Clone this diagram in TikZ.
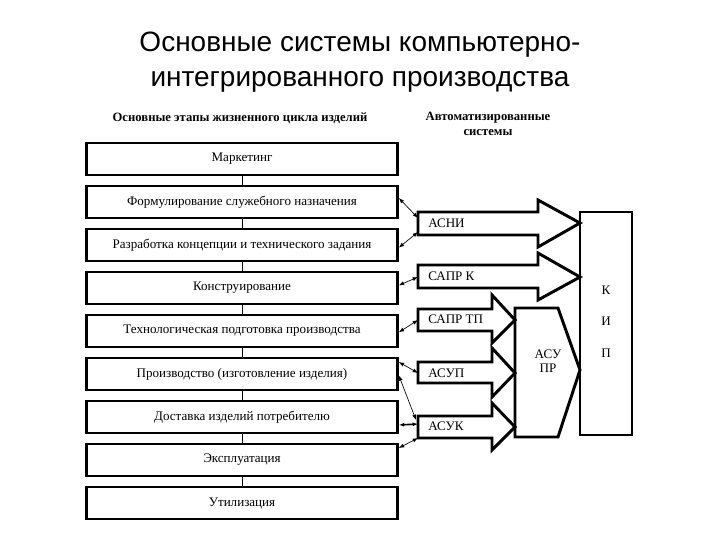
\documentclass[tikz,border=0pt]{standalone}
\usepackage{fontspec}
\setmainfont{Liberation Serif}
\newfontfamily\titlefont{Liberation Sans}
\usetikzlibrary{arrows.meta}
\begin{document}
\begin{tikzpicture}[x=0.75pt,y=-0.75pt,
  stage/.style={draw,line width=2.2pt,minimum width=233pt,minimum height=24pt,inner sep=0pt,font=\fontsize{9.8}{11}\selectfont},
  big/.style={draw,line width=2.2pt,fill=white,line join=miter},
  lab/.style={font=\fontsize{9.8}{11}\selectfont,inner sep=0pt},
  link/.style={{Latex[length=4pt,width=3pt]}-{Latex[length=4pt,width=3pt]},line width=0.5pt}]
\useasboundingbox (0,0) rectangle (720,540);
\node[font=\titlefont\fontsize{21}{26}\selectfont,align=center] (title) at (360,62) {Основные системы компьютерно-\\интегрированного производства};
\node[lab,font=\bfseries\fontsize{9.5}{11}\selectfont] (h1) at (240,118) {Основные этапы жизненного цикла изделий};
\node[lab,font=\bfseries\fontsize{9.5}{11}\selectfont,align=center] (h2) at (488,124) {Автоматизированные\\системы};
\foreach \n/\y/\t in {s1/159/Маркетинг,s2/202/Формулирование служебного назначения,s3/245/Разработка концепции и технического задания,s4/288/Конструирование,s5/331/Технологическая подготовка производства,s6/374/Производство (изготовление изделия),s7/417/Доставка изделий потребителю,s8/460/Эксплуатация,s9/503/Утилизация}
  \node[stage] (\n) at (242,\y) {\t};
\foreach \a/\b in {s1/s2,s2/s3,s3/s4,s4/s5,s5/s6,s6/s7,s7/s8,s8/s9}
  \draw[line width=0.5pt] (\a.south) -- (\b.north);
% KIP
\draw[big] (580,212) rectangle (632,435);
\node[lab] (k) at (606,290) {К};
\node[lab] (i) at (606,321) {И};
\node[lab] (p) at (606,353) {П};
% ASU PR
\draw[big] (515,308) -- (558,308) -- (580,370) -- (558,437) -- (515,437) -- cycle;
\node[lab,align=center] (asupr) at (548,361) {АСУ\\ПР};
% block arrows
\draw[big] (418,212) -- (538,212) -- (538,200) -- (580,223) -- (538,247) -- (538,235) -- (418,235) -- cycle;
\draw[big] (418,265) -- (538,265) -- (538,253) -- (580,277) -- (538,300) -- (538,288) -- (418,288) -- cycle;
\draw[big] (418,309) -- (492,309) -- (492,295) -- (515,320) -- (492,343) -- (492,331) -- (418,331) -- cycle;
\draw[big] (418,362) -- (492,362) -- (492,348) -- (515,373) -- (492,397) -- (492,383) -- (418,383) -- cycle;
\draw[big] (418,416) -- (492,416) -- (492,403) -- (515,427) -- (492,450) -- (492,438) -- (418,438) -- cycle;
\node[lab,anchor=west] (a1) at (428,223) {АСНИ};
\node[lab,anchor=west] (a2) at (428,276) {САПР К};
\node[lab,anchor=west] (a3) at (428,319) {САПР ТП};
\node[lab,anchor=west] (a4) at (428,373) {АСУП};
\node[lab,anchor=west] (a5) at (428,426) {АСУК};
\coordinate (c1) at (418,218); \coordinate (c2) at (418,232);
\coordinate (c3) at (418,277); \coordinate (c4) at (418,320);
\coordinate (c5) at (418,373); \coordinate (c6) at (418,424);
\coordinate (c7) at (416,420); \coordinate (c8) at (418,438);
\draw[link] ([yshift=3pt]s2.east) -- (c1);
\draw[link] ([yshift=-2pt]s3.east) -- (c2);
\draw[link] ([yshift=2pt]s4.east) -- (c3);
\draw[link] ([yshift=-1pt]s5.east) -- (c4);
\draw[link] ([yshift=9pt]s6.east) -- (c5);
\draw[link] ([yshift=-1pt]s6.east) -- (c7);
\draw[link,line width=1.2pt] ([yshift=-6pt]s7.east) -- (c6);
\draw[link] ([yshift=9pt]s8.east) -- (c8);
\end{tikzpicture}
\end{document}
